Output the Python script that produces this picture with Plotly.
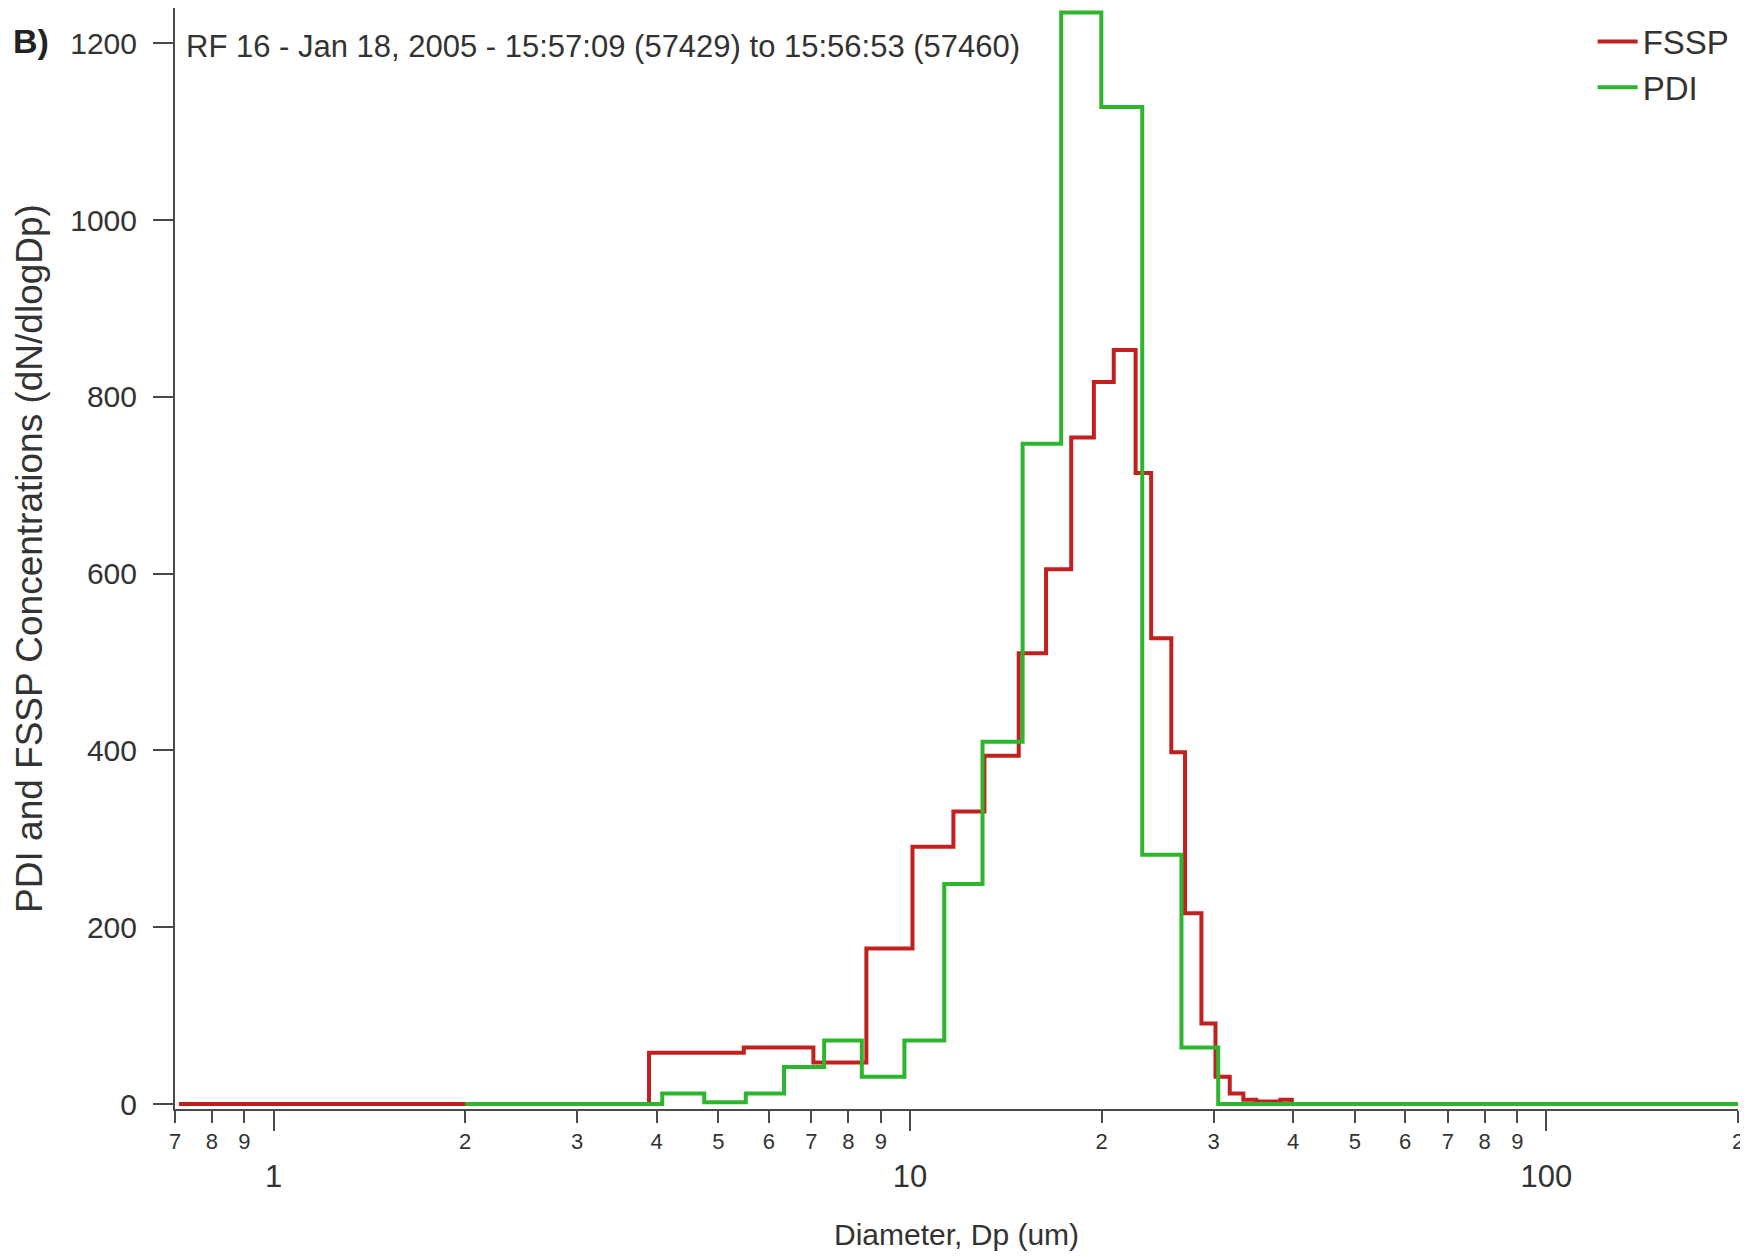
import math
import plotly.graph_objects as go

# ---------------- data ----------------
fssp_edges = [0.71, 3.89, 5.48, 7.05, 8.54, 10.09, 11.7, 13.09, 14.82, 16.36, 17.92,
              19.45, 20.9, 22.62, 23.93, 25.74, 27.05, 28.7, 30.2, 31.8, 33.4, 35.0,
              36.6, 38.2, 39.8, 41.4]
fssp_values = [0, 58, 64, 47, 176, 291, 331, 394, 510, 605, 754, 817, 853, 714, 527,
               398, 216, 91, 31, 12, 5, 3, 3, 5, 0]

pdi_edges = [2.0, 4.08, 4.75, 5.52, 6.34, 7.33, 8.4, 9.8, 11.32, 13.0, 15.03, 17.28,
             19.98, 23.17, 26.7, 30.5, 200]
pdi_values = [0, 12, 2, 12, 42, 72, 31, 72, 249, 410, 747, 1235, 1128, 282, 64, 0]

minor_tick_vals = [0.7, 0.8, 0.9, 2, 3, 4, 5, 6, 7, 8, 9, 20, 30, 40, 50, 60, 70, 80, 90, 200]
minor_tick_text = ["7", "8", "9", "2", "3", "4", "5", "6", "7", "8", "9",
                   "2", "3", "4", "5", "6", "7", "8", "9", "2"]
major_tick_vals = [1, 10, 100]
major_tick_text = ["1", "10", "100"]
y_tick_vals = [0, 200, 400, 600, 800, 1000, 1200]

title_text = "RF 16 - Jan 18, 2005 - 15:57:09 (57429) to 15:56:53 (57460)"
panel_label = "B)"
x_title = "Diameter, Dp (um)"
y_title = "PDI and FSSP Concentrations (dN/dlogDp)"

# ---------------- styling ----------------
FONT = "Liberation Sans, Arial, sans-serif"
AX = "#4a4a4a"
TXT = "#333333"
RED = "#c21f1f"
GREEN = "#2db52d"

fig = go.Figure()
fig.add_trace(go.Scatter(
    x=fssp_edges, y=fssp_values + [fssp_values[-1]], mode="lines", line_shape="hv",
    name="FSSP", line=dict(color=RED, width=4)))
fig.add_trace(go.Scatter(
    x=pdi_edges, y=pdi_values + [pdi_values[-1]], mode="lines", line_shape="hv",
    name="PDI", line=dict(color=GREEN, width=4)))
# invisible trace that drives the major-tick axis
fig.add_trace(go.Scatter(x=[1, 100], y=[0, 0], xaxis="x2", mode="lines",
                         line=dict(width=0), showlegend=False, hoverinfo="skip"))

xr = [math.log10(0.7), math.log10(200)]

fig.update_layout(
    width=1740, height=1249,
    margin=dict(l=167, r=10, t=0, b=148, autoexpand=False),
    paper_bgcolor="white", plot_bgcolor="white",
    showlegend=True,
    legend=dict(x=0.907, y=0.995, xanchor="left", yanchor="top",
                font=dict(family=FONT, size=33, color=TXT),
                bgcolor="rgba(0,0,0,0)", tracegroupgap=0, itemwidth=40),
    xaxis=dict(type="log", range=xr, showgrid=False, zeroline=False, automargin=False,
               showline=True, linecolor=AX, linewidth=2,
               ticks="outside", ticklen=12, tickwidth=2, tickcolor=AX,
               tickvals=minor_tick_vals, ticktext=minor_tick_text,
               tickfont=dict(family=FONT, size=22, color=TXT),
               ticklabelstandoff=0),
    xaxis2=dict(type="log", range=xr, overlaying="x", anchor="y", side="bottom",
                showgrid=False, zeroline=False, showline=False, automargin=False,
                ticks="outside", ticklen=21, tickwidth=2, tickcolor=AX,
                tickvals=major_tick_vals, ticktext=major_tick_text,
                tickfont=dict(family=FONT, size=31, color=TXT),
                ticklabelstandoff=19),
    yaxis=dict(range=[-5.6, 1240], showgrid=False, zeroline=False, automargin=False,
               showline=True, linecolor=AX, linewidth=2,
               ticks="outside", ticklen=20, tickwidth=2, tickcolor=AX,
               tickvals=y_tick_vals,
               tickfont=dict(family=FONT, size=30, color=TXT),
               ticklabelstandoff=10,
               title=dict(text=y_title, standoff=16,
                          font=dict(family=FONT, size=37, color=TXT))),
    annotations=[
        dict(text=title_text, xref="paper", yref="paper", x=0.006, y=0.9646,
             xanchor="left", yanchor="middle", showarrow=False,
             font=dict(family=FONT, size=31, color=TXT)),
        dict(text="<b>" + panel_label + "</b>", xref="paper", yref="paper", x=-0.105, y=0.970,
             xanchor="left", yanchor="middle", showarrow=False,
             font=dict(family=FONT, size=34, color="#222")),
        dict(text=x_title, xref="paper", yref="paper", x=0.5, y=-0.1144,
             xanchor="center", yanchor="middle", showarrow=False,
             font=dict(family=FONT, size=30, color=TXT)),
    ],
)

fig.write_html("out.html")
